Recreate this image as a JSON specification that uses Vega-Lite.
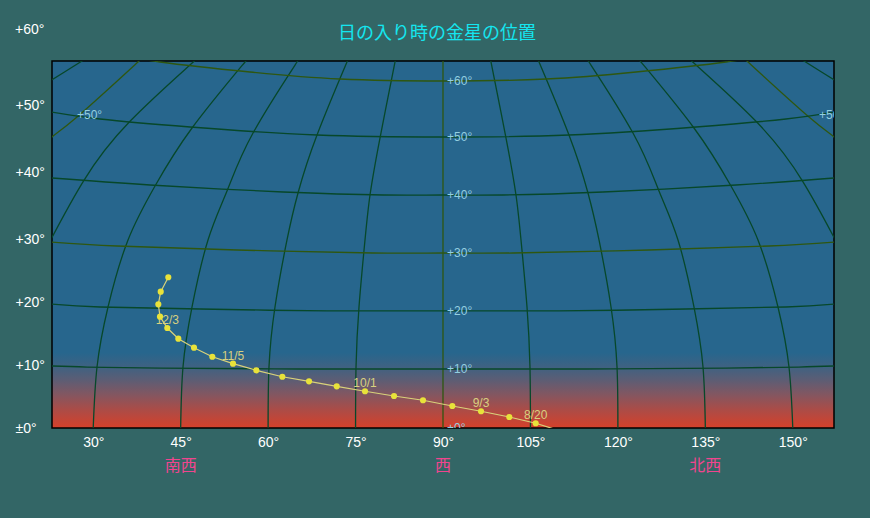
{
  "$schema": "https://vega.github.io/schema/vega-lite/v6.json",
  "width": 782,
  "height": 367,
  "autosize": "none",
  "padding": {"left": 52, "top": 61, "right": 36, "bottom": 90},
  "background": "#336666",
  "config": {"view": {"stroke": "#000000", "strokeWidth": 1.5, "fill": {"gradient": "linear", "x1": 0, "y1": 0, "x2": 0, "y2": 1, "stops": [
    {"offset": 0, "color": "#27668d"},
    {"offset": 0.795, "color": "#27668d"},
    {"offset": 0.83, "color": "#3c6283"},
    {"offset": 0.87, "color": "#5d5d74"},
    {"offset": 0.91, "color": "#845660"},
    {"offset": 0.95, "color": "#ab4c47"},
    {"offset": 1, "color": "#d6402a"}
  ]}}},
  "title": {"text": "日の入り時の金星の位置", "color": "#14e6f0", "font": "Noto Sans CJK JP", "fontSize": 18, "fontWeight": "normal", "anchor": "middle", "frame": "group", "offset": -20, "dx": -6},
  "datasets": {
    "grid": [
      {"id": "a-15", "k": "minor", "i": 0, "az": 20.2, "alt": 54.4},
      {"id": "a-15", "k": "minor", "i": 1, "az": 22.88, "alt": 55.99},
      {"id": "a-15", "k": "minor", "i": 2, "az": 28.08, "alt": 59.05},
      {"id": "a-15", "k": "minor", "i": 3, "az": 28.77, "alt": 59.53},
      {"id": "a195", "k": "minor", "i": 0, "az": 159.8, "alt": 54.4},
      {"id": "a195", "k": "minor", "i": 1, "az": 157.12, "alt": 55.99},
      {"id": "a195", "k": "minor", "i": 2, "az": 151.92, "alt": 59.05},
      {"id": "a195", "k": "minor", "i": 3, "az": 151.23, "alt": 59.53},
      {"id": "a0", "k": "major", "i": 0, "az": 21.5, "alt": 44.6},
      {"id": "a0", "k": "major", "i": 1, "az": 22.93, "alt": 46.82},
      {"id": "a0", "k": "major", "i": 2, "az": 27.22, "alt": 50.04},
      {"id": "a0", "k": "major", "i": 3, "az": 37.68, "alt": 58.89},
      {"id": "a0", "k": "major", "i": 4, "az": 38.54, "alt": 59.6},
      {"id": "a180", "k": "major", "i": 0, "az": 158.5, "alt": 44.6},
      {"id": "a180", "k": "major", "i": 1, "az": 157.07, "alt": 46.82},
      {"id": "a180", "k": "major", "i": 2, "az": 152.78, "alt": 50.04},
      {"id": "a180", "k": "major", "i": 3, "az": 142.32, "alt": 58.89},
      {"id": "a180", "k": "major", "i": 4, "az": 141.46, "alt": 59.6},
      {"id": "a15", "k": "minor", "i": 0, "az": 22.0, "alt": 29.0},
      {"id": "a15", "k": "minor", "i": 1, "az": 22.88, "alt": 30.57},
      {"id": "a15", "k": "minor", "i": 2, "az": 28.3, "alt": 39.69},
      {"id": "a15", "k": "minor", "i": 3, "az": 36.31, "alt": 49.35},
      {"id": "a15", "k": "minor", "i": 4, "az": 47.17, "alt": 58.89},
      {"id": "a15", "k": "minor", "i": 5, "az": 47.6, "alt": 59.5},
      {"id": "a165", "k": "minor", "i": 0, "az": 158.0, "alt": 29.0},
      {"id": "a165", "k": "minor", "i": 1, "az": 157.12, "alt": 30.57},
      {"id": "a165", "k": "minor", "i": 2, "az": 151.7, "alt": 39.69},
      {"id": "a165", "k": "minor", "i": 3, "az": 143.69, "alt": 49.35},
      {"id": "a165", "k": "minor", "i": 4, "az": 132.83, "alt": 58.89},
      {"id": "a165", "k": "minor", "i": 5, "az": 132.4, "alt": 59.5},
      {"id": "a30", "k": "minor", "i": 0, "az": 30.0, "alt": 0},
      {"id": "a30", "k": "minor", "i": 1, "az": 30.65, "alt": 9.81},
      {"id": "a30", "k": "minor", "i": 2, "az": 32.54, "alt": 19.47},
      {"id": "a30", "k": "minor", "i": 3, "az": 35.97, "alt": 30.25},
      {"id": "a30", "k": "minor", "i": 4, "az": 40.6, "alt": 38.94},
      {"id": "a30", "k": "minor", "i": 5, "az": 46.95, "alt": 48.27},
      {"id": "a30", "k": "minor", "i": 6, "az": 56.04, "alt": 58.89},
      {"id": "a30", "k": "minor", "i": 7, "az": 56.5, "alt": 59.5},
      {"id": "a150", "k": "minor", "i": 0, "az": 150.0, "alt": 0},
      {"id": "a150", "k": "minor", "i": 1, "az": 149.35, "alt": 9.81},
      {"id": "a150", "k": "minor", "i": 2, "az": 147.46, "alt": 19.47},
      {"id": "a150", "k": "minor", "i": 3, "az": 144.03, "alt": 30.25},
      {"id": "a150", "k": "minor", "i": 4, "az": 139.4, "alt": 38.94},
      {"id": "a150", "k": "minor", "i": 5, "az": 133.05, "alt": 48.27},
      {"id": "a150", "k": "minor", "i": 6, "az": 123.96, "alt": 58.89},
      {"id": "a150", "k": "minor", "i": 7, "az": 123.5, "alt": 59.5},
      {"id": "a45", "k": "minor", "i": 0, "az": 45.0, "alt": 0},
      {"id": "a45", "k": "minor", "i": 1, "az": 45.4, "alt": 9.81},
      {"id": "a45", "k": "minor", "i": 2, "az": 46.95, "alt": 19.47},
      {"id": "a45", "k": "minor", "i": 3, "az": 49.69, "alt": 30.25},
      {"id": "a45", "k": "minor", "i": 4, "az": 52.95, "alt": 38.13},
      {"id": "a45", "k": "minor", "i": 5, "az": 57.41, "alt": 47.46},
      {"id": "a45", "k": "minor", "i": 6, "az": 64.96, "alt": 58.89},
      {"id": "a45", "k": "minor", "i": 7, "az": 65.3, "alt": 59.5},
      {"id": "a135", "k": "minor", "i": 0, "az": 135.0, "alt": 0},
      {"id": "a135", "k": "minor", "i": 1, "az": 134.6, "alt": 9.81},
      {"id": "a135", "k": "minor", "i": 2, "az": 133.05, "alt": 19.47},
      {"id": "a135", "k": "minor", "i": 3, "az": 130.31, "alt": 30.25},
      {"id": "a135", "k": "minor", "i": 4, "az": 127.05, "alt": 38.13},
      {"id": "a135", "k": "minor", "i": 5, "az": 122.59, "alt": 47.46},
      {"id": "a135", "k": "minor", "i": 6, "az": 115.04, "alt": 58.89},
      {"id": "a135", "k": "minor", "i": 7, "az": 114.7, "alt": 59.5},
      {"id": "a60", "k": "minor", "i": 0, "az": 60.0, "alt": 0},
      {"id": "a60", "k": "minor", "i": 1, "az": 60.15, "alt": 9.81},
      {"id": "a60", "k": "minor", "i": 2, "az": 61.18, "alt": 19.47},
      {"id": "a60", "k": "minor", "i": 3, "az": 63.24, "alt": 30.25},
      {"id": "a60", "k": "minor", "i": 4, "az": 65.13, "alt": 37.81},
      {"id": "a60", "k": "minor", "i": 5, "az": 68.39, "alt": 47.14},
      {"id": "a60", "k": "minor", "i": 6, "az": 73.53, "alt": 58.89},
      {"id": "a60", "k": "minor", "i": 7, "az": 73.8, "alt": 59.5},
      {"id": "a120", "k": "minor", "i": 0, "az": 120.0, "alt": 0},
      {"id": "a120", "k": "minor", "i": 1, "az": 119.85, "alt": 9.81},
      {"id": "a120", "k": "minor", "i": 2, "az": 118.82, "alt": 19.47},
      {"id": "a120", "k": "minor", "i": 3, "az": 116.76, "alt": 30.25},
      {"id": "a120", "k": "minor", "i": 4, "az": 114.87, "alt": 37.81},
      {"id": "a120", "k": "minor", "i": 5, "az": 111.61, "alt": 47.14},
      {"id": "a120", "k": "minor", "i": 6, "az": 106.47, "alt": 58.89},
      {"id": "a120", "k": "minor", "i": 7, "az": 106.2, "alt": 59.5},
      {"id": "a75", "k": "minor", "i": 0, "az": 75.0, "alt": 0},
      {"id": "a75", "k": "minor", "i": 1, "az": 75.08, "alt": 9.81},
      {"id": "a75", "k": "minor", "i": 2, "az": 75.59, "alt": 19.47},
      {"id": "a75", "k": "minor", "i": 3, "az": 76.62, "alt": 30.25},
      {"id": "a75", "k": "minor", "i": 4, "az": 77.48, "alt": 37.49},
      {"id": "a75", "k": "minor", "i": 5, "az": 79.19, "alt": 46.66},
      {"id": "a75", "k": "minor", "i": 6, "az": 81.77, "alt": 58.89},
      {"id": "a75", "k": "minor", "i": 7, "az": 81.9, "alt": 59.5},
      {"id": "a105", "k": "minor", "i": 0, "az": 105.0, "alt": 0},
      {"id": "a105", "k": "minor", "i": 1, "az": 104.92, "alt": 9.81},
      {"id": "a105", "k": "minor", "i": 2, "az": 104.41, "alt": 19.47},
      {"id": "a105", "k": "minor", "i": 3, "az": 103.38, "alt": 30.25},
      {"id": "a105", "k": "minor", "i": 4, "az": 102.52, "alt": 37.49},
      {"id": "a105", "k": "minor", "i": 5, "az": 100.81, "alt": 46.66},
      {"id": "a105", "k": "minor", "i": 6, "az": 98.23, "alt": 58.89},
      {"id": "a105", "k": "minor", "i": 7, "az": 98.1, "alt": 59.5},
      {"id": "a90", "k": "major", "i": 0, "az": 90.0, "alt": 0},
      {"id": "a90", "k": "major", "i": 1, "az": 90.0, "alt": 59.5},
      {"id": "h10", "k": "minor", "i": 0, "az": 22.8, "alt": 9.98},
      {"id": "h10", "k": "minor", "i": 1, "az": 28.94, "alt": 9.81},
      {"id": "h10", "k": "minor", "i": 2, "az": 41.46, "alt": 9.65},
      {"id": "h10", "k": "minor", "i": 3, "az": 65.47, "alt": 9.49},
      {"id": "h10", "k": "minor", "i": 4, "az": 90.0, "alt": 9.49},
      {"id": "h10", "k": "minor", "i": 5, "az": 114.53, "alt": 9.49},
      {"id": "h10", "k": "minor", "i": 6, "az": 138.54, "alt": 9.65},
      {"id": "h10", "k": "minor", "i": 7, "az": 151.06, "alt": 9.81},
      {"id": "h10", "k": "minor", "i": 8, "az": 157.2, "alt": 9.98},
      {"id": "h20", "k": "minor", "i": 0, "az": 22.8, "alt": 19.95},
      {"id": "h20", "k": "minor", "i": 1, "az": 31.17, "alt": 19.47},
      {"id": "h20", "k": "minor", "i": 2, "az": 48.32, "alt": 19.15},
      {"id": "h20", "k": "minor", "i": 3, "az": 70.1, "alt": 18.83},
      {"id": "h20", "k": "minor", "i": 4, "az": 90.0, "alt": 18.83},
      {"id": "h20", "k": "minor", "i": 5, "az": 109.9, "alt": 18.83},
      {"id": "h20", "k": "minor", "i": 6, "az": 131.68, "alt": 19.15},
      {"id": "h20", "k": "minor", "i": 7, "az": 148.83, "alt": 19.47},
      {"id": "h20", "k": "minor", "i": 8, "az": 157.2, "alt": 19.95},
      {"id": "h30", "k": "major", "i": 0, "az": 22.8, "alt": 29.93},
      {"id": "h30", "k": "major", "i": 1, "az": 34.08, "alt": 29.28},
      {"id": "h30", "k": "major", "i": 2, "az": 54.67, "alt": 28.64},
      {"id": "h30", "k": "major", "i": 3, "az": 77.99, "alt": 28.16},
      {"id": "h30", "k": "major", "i": 4, "az": 90.0, "alt": 28.16},
      {"id": "h30", "k": "major", "i": 5, "az": 102.01, "alt": 28.16},
      {"id": "h30", "k": "major", "i": 6, "az": 125.33, "alt": 28.64},
      {"id": "h30", "k": "major", "i": 7, "az": 145.92, "alt": 29.28},
      {"id": "h30", "k": "major", "i": 8, "az": 157.2, "alt": 29.93},
      {"id": "h40", "k": "minor", "i": 0, "az": 22.8, "alt": 40.23},
      {"id": "h40", "k": "minor", "i": 1, "az": 39.74, "alt": 39.1},
      {"id": "h40", "k": "minor", "i": 2, "az": 62.56, "alt": 37.97},
      {"id": "h40", "k": "minor", "i": 3, "az": 79.71, "alt": 37.49},
      {"id": "h40", "k": "minor", "i": 4, "az": 90.0, "alt": 37.49},
      {"id": "h40", "k": "minor", "i": 5, "az": 100.29, "alt": 37.49},
      {"id": "h40", "k": "minor", "i": 6, "az": 117.44, "alt": 37.97},
      {"id": "h40", "k": "minor", "i": 7, "az": 140.26, "alt": 39.1},
      {"id": "h40", "k": "minor", "i": 8, "az": 157.2, "alt": 40.23},
      {"id": "h50", "k": "minor", "i": 0, "az": 22.8, "alt": 50.84},
      {"id": "h50", "k": "minor", "i": 1, "az": 31.17, "alt": 49.72},
      {"id": "h50", "k": "minor", "i": 2, "az": 46.6, "alt": 48.43},
      {"id": "h50", "k": "minor", "i": 3, "az": 68.39, "alt": 47.14},
      {"id": "h50", "k": "minor", "i": 4, "az": 90.0, "alt": 46.82},
      {"id": "h50", "k": "minor", "i": 5, "az": 111.61, "alt": 47.14},
      {"id": "h50", "k": "minor", "i": 6, "az": 133.4, "alt": 48.43},
      {"id": "h50", "k": "minor", "i": 7, "az": 148.83, "alt": 49.72},
      {"id": "h50", "k": "minor", "i": 8, "az": 157.2, "alt": 50.84},
      {"id": "h60", "k": "major", "i": 0, "az": 36.5, "alt": 59.8},
      {"id": "h60", "k": "major", "i": 1, "az": 41.46, "alt": 58.89},
      {"id": "h60", "k": "major", "i": 2, "az": 56.9, "alt": 57.28},
      {"id": "h60", "k": "major", "i": 3, "az": 72.33, "alt": 56.15},
      {"id": "h60", "k": "major", "i": 4, "az": 90.0, "alt": 55.83},
      {"id": "h60", "k": "major", "i": 5, "az": 107.67, "alt": 56.15},
      {"id": "h60", "k": "major", "i": 6, "az": 123.1, "alt": 57.28},
      {"id": "h60", "k": "major", "i": 7, "az": 138.54, "alt": 58.89},
      {"id": "h60", "k": "major", "i": 8, "az": 143.5, "alt": 59.8}
    ],
    "glab": [
      {"t": "+0°", "az": 90.69, "alt": 0},
      {"t": "+10°", "az": 90.69, "alt": 9.49},
      {"t": "+20°", "az": 90.69, "alt": 18.83},
      {"t": "+30°", "az": 90.69, "alt": 28.16},
      {"t": "+40°", "az": 90.69, "alt": 37.49},
      {"t": "+50°", "az": 90.69, "alt": 46.82},
      {"t": "+60°", "az": 90.69, "alt": 55.83},
      {"t": "+50°", "az": 27.22, "alt": 50.36},
      {"t": "+50°", "az": 154.49, "alt": 50.36}
    ],
    "venus": [
      {"i": 0, "d": "8/13", "lab": "", "az": 110.58, "alt": -0.6},
      {"i": 1, "d": "8/20", "lab": "8/20", "az": 105.9, "alt": 0.76},
      {"i": 2, "d": "8/27", "lab": "", "az": 101.37, "alt": 1.77},
      {"i": 3, "d": "9/3", "lab": "9/3", "az": 96.52, "alt": 2.69},
      {"i": 4, "d": "9/10", "lab": "", "az": 91.6, "alt": 3.54},
      {"i": 5, "d": "9/17", "lab": "", "az": 86.57, "alt": 4.46},
      {"i": 6, "d": "9/24", "lab": "", "az": 81.6, "alt": 5.15},
      {"i": 7, "d": "10/1", "lab": "10/1", "az": 76.62, "alt": 5.91},
      {"i": 8, "d": "10/8", "lab": "", "az": 71.77, "alt": 6.71},
      {"i": 9, "d": "10/15", "lab": "", "az": 67.02, "alt": 7.51},
      {"i": 10, "d": "10/22", "lab": "", "az": 62.44, "alt": 8.25},
      {"i": 11, "d": "10/29", "lab": "", "az": 57.98, "alt": 9.28},
      {"i": 12, "d": "11/5", "lab": "11/5", "az": 53.98, "alt": 10.35},
      {"i": 13, "d": "11/12", "lab": "", "az": 50.43, "alt": 11.47},
      {"i": 14, "d": "11/19", "lab": "", "az": 47.29, "alt": 12.92},
      {"i": 15, "d": "11/26", "lab": "", "az": 44.6, "alt": 14.37},
      {"i": 16, "d": "12/3", "lab": "12/3", "az": 42.71, "alt": 16.09},
      {"i": 17, "d": "12/10", "lab": "", "az": 41.46, "alt": 17.91},
      {"i": 18, "d": "12/17", "lab": "", "az": 41.17, "alt": 19.9},
      {"i": 19, "d": "12/24", "lab": "", "az": 41.58, "alt": 21.93},
      {"i": 20, "d": "12/31", "lab": "", "az": 42.88, "alt": 24.25}
    ],
    "dir": [
      {"t": "南西", "az": 45, "alt": 0},
      {"t": "西", "az": 90, "alt": 0},
      {"t": "北西", "az": 135, "alt": 0}
    ]
  },
  "encoding": {
    "x": {
      "field": "az", "type": "quantitative",
      "scale": {"domain": [22.93, 157.07], "nice": false, "zero": false},
      "axis": {"values": [30, 45, 60, 75, 90, 105, 120, 135, 150], "labelExpr": "datum.value + '°'", "labelColor": "#ffffff", "labelFont": "Liberation Sans", "labelFontSize": 14, "labelPadding": 7, "labelFlush": false, "ticks": false, "domain": false, "grid": false, "title": null}
    },
    "y": {
      "field": "alt", "type": "quantitative",
      "scale": {"domain": [0, 59.05], "nice": false, "zero": false},
      "axis": {"values": [0, 9.98, 20.27, 30.25, 41.19, 51.97], "labelExpr": "datum.value < 0.5 ? '±0°' : '+' + round(datum.value / 10) * 10 + '°'", "labelColor": "#ffffff", "labelFont": "Liberation Sans", "labelFontSize": 14, "labelAlign": "left", "labelBaseline": "middle", "labelPadding": 37, "labelFlush": false, "ticks": false, "domain": false, "grid": false, "title": null}
    }
  },
  "layer": [
    {
      "data": {"name": "grid"},
      "mark": {"type": "line", "clip": true, "strokeWidth": 1.3, "interpolate": "natural"},
      "encoding": {
        "detail": {"field": "id"},
        "order": {"field": "i", "type": "quantitative"},
        "color": {"field": "k", "type": "nominal", "scale": {"domain": ["major", "minor"], "range": ["#2f5710", "#07482a"]}, "legend": null}
      }
    },
    {
      "data": {"name": "glab"},
      "mark": {"type": "text", "clip": true, "align": "left", "baseline": "middle", "font": "Liberation Sans", "fontSize": 12, "color": "#94cfe0"},
      "encoding": {"text": {"field": "t"}}
    },
    {
      "data": {"name": "venus"},
      "transform": [{"filter": "datum.lab != ''"}],
      "mark": {"type": "text", "align": "center", "baseline": "middle", "dy": -8, "font": "Liberation Sans", "fontSize": 12, "color": "#d8d080"},
      "encoding": {"text": {"field": "lab"}}
    },
    {
      "data": {"name": "venus"},
      "mark": {"type": "line", "clip": true, "strokeWidth": 1.2, "color": "#d9d27a"},
      "encoding": {"order": {"field": "i", "type": "quantitative"}}
    },
    {
      "data": {"name": "venus"},
      "mark": {"type": "circle", "clip": true, "size": 38, "opacity": 1, "color": "#e8e23a"}
    },
    {
      "data": {"name": "dir"},
      "mark": {"type": "text", "baseline": "middle", "align": "center", "dy": 38, "font": "Noto Sans CJK JP", "fontSize": 16, "color": "#f0458e"},
      "encoding": {"text": {"field": "t"}}
    },
    {
      "data": {"values": [{"t": "+60°", "az": 16.6, "alt": 64.0}]},
      "mark": {"type": "text", "align": "left", "baseline": "middle", "font": "Liberation Sans", "fontSize": 14, "color": "#ffffff"},
      "encoding": {"text": {"field": "t"}}
    }
  ]
}
